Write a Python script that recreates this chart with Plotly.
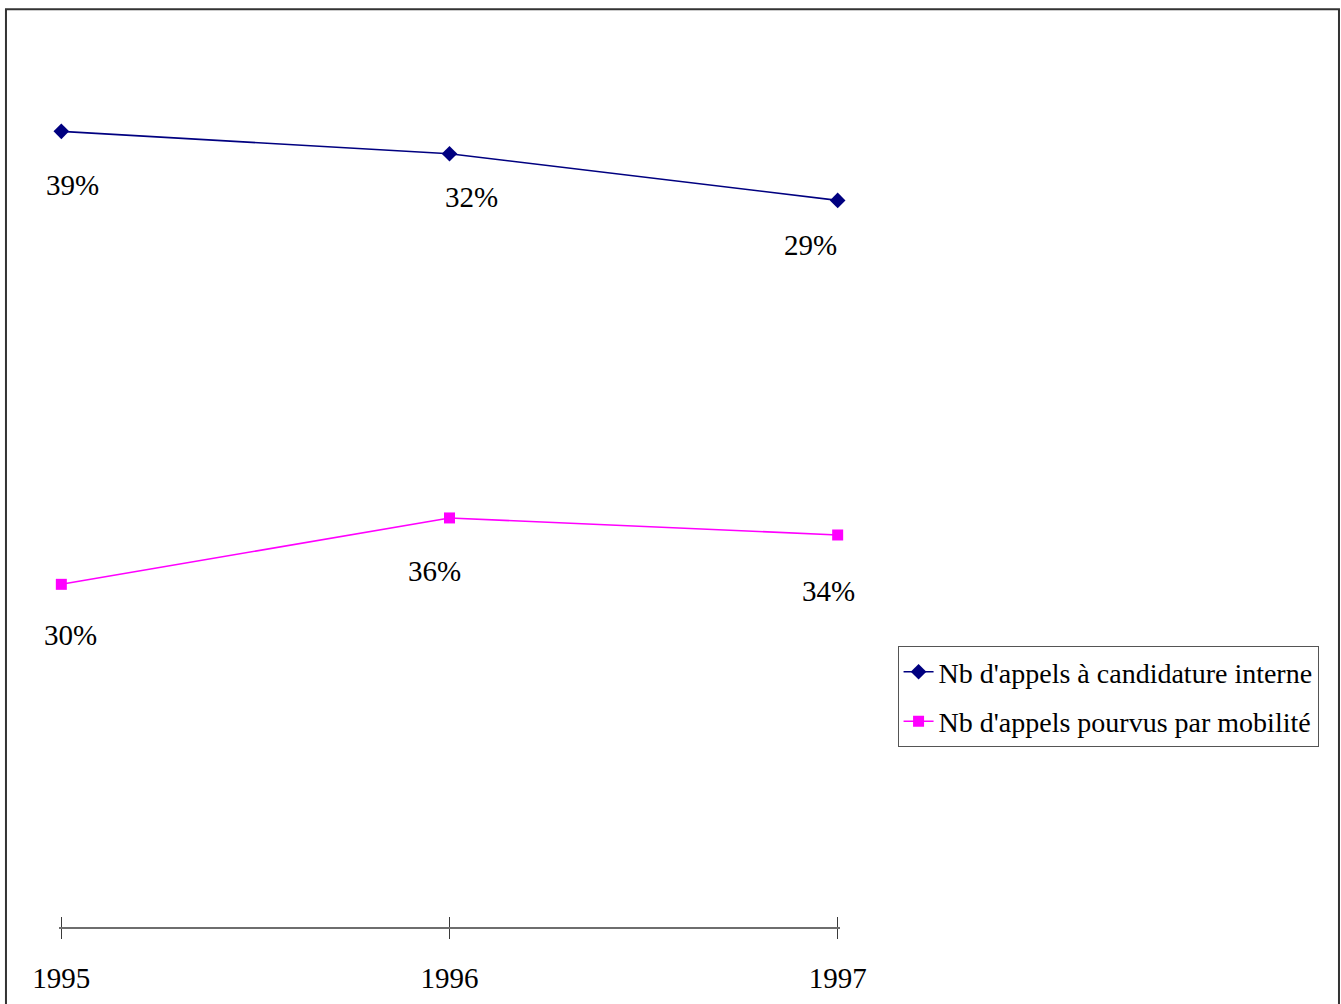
import plotly.graph_objects as go

# Years on the horizontal axis
years = [1995, 1996, 1997]

# Number of calls (plotted values)
appels_internes = [88.7, 86.2, 81.0]
appels_mobilite = [38.2, 45.6, 43.7]

# Percentage labels shown next to each point
labels_internes = ["39%", "32%", "29%"]
labels_mobilite = ["30%", "36%", "34%"]

series_names = ["Nb d'appels à candidature interne", "Nb d'appels pourvus par mobilité"]

# Label offsets in pixels (dx, dy) relative to each point
offsets_internes = [(11, 54), (22, 43), (-27, 45)]
offsets_mobilite = [(9, 51), (-15, 53), (-9, 56)]

FONT = "Liberation Serif"
NAVY = "#000080"
MAGENTA = "#FF00FF"

# small padding on the x range so that the end ticks are not dropped
PAD = 0.006
XRANGE = [years[0] - PAD, years[-1] + PAD]

fig = go.Figure()
fig.add_trace(go.Scatter(
    x=years, y=appels_internes, name=series_names[0], mode="lines+markers",
    line=dict(color=NAVY, width=1.6),
    marker=dict(symbol="diamond", size=12, color=NAVY),
    cliponaxis=False, legendgroup="a",
))
fig.add_trace(go.Scatter(
    x=years, y=appels_mobilite, name=series_names[1], mode="lines+markers",
    line=dict(color=MAGENTA, width=1.6),
    marker=dict(symbol="square", size=11, color=MAGENTA),
    cliponaxis=False, legendgroup="b",
))

annotations = []
for ys, labs, offs in ((appels_internes, labels_internes, offsets_internes),
                       (appels_mobilite, labels_mobilite, offsets_mobilite)):
    for x, y, lab, (dx, dy) in zip(years, ys, labs, offs):
        annotations.append(dict(
            x=x, y=y, xref="x", yref="y", text=lab, showarrow=False,
            xshift=dx, yshift=-dy, font=dict(family=FONT, size=29, color="black"),
        ))

# Secondary x axis overlay to draw the upper half of the crossing tick marks
fig.add_trace(go.Scatter(x=years, y=[None] * 3, xaxis="x2", showlegend=False, hoverinfo="skip"))

fig.update_layout(
    width=1341, height=1004,
    margin=dict(l=59, r=501, t=0, b=77),
    paper_bgcolor="white", plot_bgcolor="white",
    showlegend=True,
    xaxis=dict(
        range=XRANGE, tickvals=years, ticktext=[str(y) for y in years],
        showline=True, linecolor="#6e6e6e", linewidth=1.5,
        ticks="outside", ticklen=10, tickcolor="#3a3a3a", tickwidth=1,
        showgrid=False, zeroline=False, ticklabelstandoff=14,
        tickfont=dict(family=FONT, size=29, color="black"),
    ),
    xaxis2=dict(
        overlaying="x", range=XRANGE, tickvals=years,
        side="bottom", anchor="y",
        ticks="inside", ticklen=10, tickcolor="#3a3a3a", tickwidth=1,
        showticklabels=False, showgrid=False, zeroline=False, showline=False,
    ),
    yaxis=dict(range=[0, 103.34], visible=False, fixedrange=True),
    legend=dict(
        x=1.0737, y=0.303, xanchor="left", yanchor="top",
        bordercolor="#555555", borderwidth=1, bgcolor="white",
        font=dict(family=FONT, size=28, color="black"),
        tracegroupgap=10, itemwidth=30,
    ),
    annotations=annotations,
    shapes=[dict(
        type="rect", xref="paper", yref="paper",
        x0=-0.0679, x1=1.6389, y0=-0.0895, y1=0.990,
        line=dict(color="#333333", width=2), fillcolor="rgba(0,0,0,0)", layer="below",
    )],
)

fig.write_html("out.html")
